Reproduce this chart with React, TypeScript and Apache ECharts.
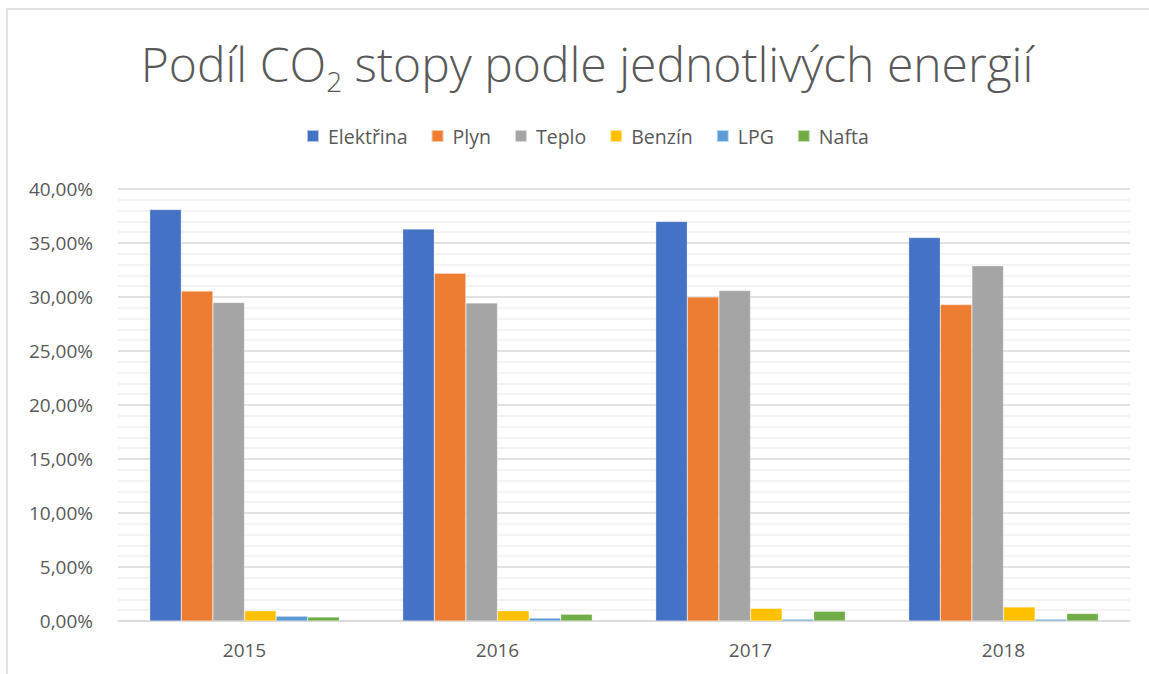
import React, { useEffect, useRef } from "react";
import * as echarts from "echarts";

const years = ["2015", "2016", "2017", "2018"];
const seriesNames = ["Elektřina", "Plyn", "Teplo", "Benzín", "LPG", "Nafta"];
const elektrina = [38.1, 36.3, 37.0, 35.5];
const plyn = [30.55, 32.2, 30.0, 29.3];
const teplo = [29.5, 29.45, 30.6, 32.9];
const benzin = [0.95, 0.95, 1.17, 1.3];
const lpg = [0.45, 0.27, 0.17, 0.17];
const nafta = [0.38, 0.62, 0.9, 0.7];
const colors = ["#4472C4", "#ED7D31", "#A5A5A5", "#FFC000", "#5B9BD5", "#70AD47"];

export default function App() {
  const ref = useRef<HTMLDivElement>(null);
  useEffect(() => {
    if (!ref.current) return;
    const chart = echarts.init(ref.current, undefined, { renderer: "svg" });
    const values = [elektrina, plyn, teplo, benzin, lpg, nafta];
    const font = "'Open Sans', sans-serif";
    chart.setOption({
      animation: false,
      color: colors,
      title: {
        text: "{a|Podíl CO}{s|2}{a| stopy podle jednotlivých energií}",
        left: 582,
        top: 26,
        textAlign: "center",
        textStyle: {
          rich: {
            a: { fontFamily: font, fontSize: 48, fontWeight: 300, color: "#595959", lineHeight: 64 },
            s: { fontFamily: font, fontSize: 28, fontWeight: 300, color: "#595959", lineHeight: 28, verticalAlign: "bottom" },
          },
        },
      },
      legend: {
        top: 121,
        left: 301,
        itemWidth: 12,
        itemHeight: 12,
        itemGap: 23,
        icon: "rect",
        data: seriesNames,
        textStyle: { fontFamily: font, fontSize: 19.5, color: "#595959", padding: [0, 0, 0, 4] },
      },
      grid: { left: 118, right: 19, top: 189, bottom: 53, containLabel: false },
      xAxis: {
        type: "category",
        data: years,
        axisLine: { lineStyle: { color: "#d9d9d9", width: 1.5 } },
        axisTick: { show: false },
        axisLabel: { fontFamily: font, fontSize: 19, color: "#595959", margin: 19 },
      },
      yAxis: {
        type: "value",
        min: 0,
        max: 40,
        interval: 5,
        axisLine: { show: false },
        axisTick: { show: false },
        axisLabel: {
          fontFamily: font,
          fontSize: 19,
          color: "#595959",
          margin: 25,
          formatter: (v: number) => v.toFixed(2).replace(".", ",") + "%",
        },
        splitLine: { lineStyle: { color: "#d9d9d9", width: 1.5 } },
        minorTick: { show: false, splitNumber: 5 },
        minorSplitLine: { show: true, lineStyle: { color: "#f0f0f0", width: 1.5 } },
      },
      graphic: [
        {
          type: "rect",
          shape: { x: 7, y: 9, width: 1200, height: 700 },
          style: { fill: "none", stroke: "#d9d9d9", lineWidth: 1.5 },
          silent: true,
        },
      ],
      series: seriesNames.map((name, i) => ({
        name,
        type: "bar",
        data: values[i],
        barWidth: 31.6,
        barGap: "0%",
        itemStyle: { borderColor: "rgba(255,255,255,0.6)", borderWidth: 0.5 },
      })),
    });
    return () => chart.dispose();
  }, []);
  return (
    <div
      ref={ref}
      style={{ position: "fixed", left: 0, top: 0, width: 1149, height: 674, background: "#fff" }}
    />
  );
}
